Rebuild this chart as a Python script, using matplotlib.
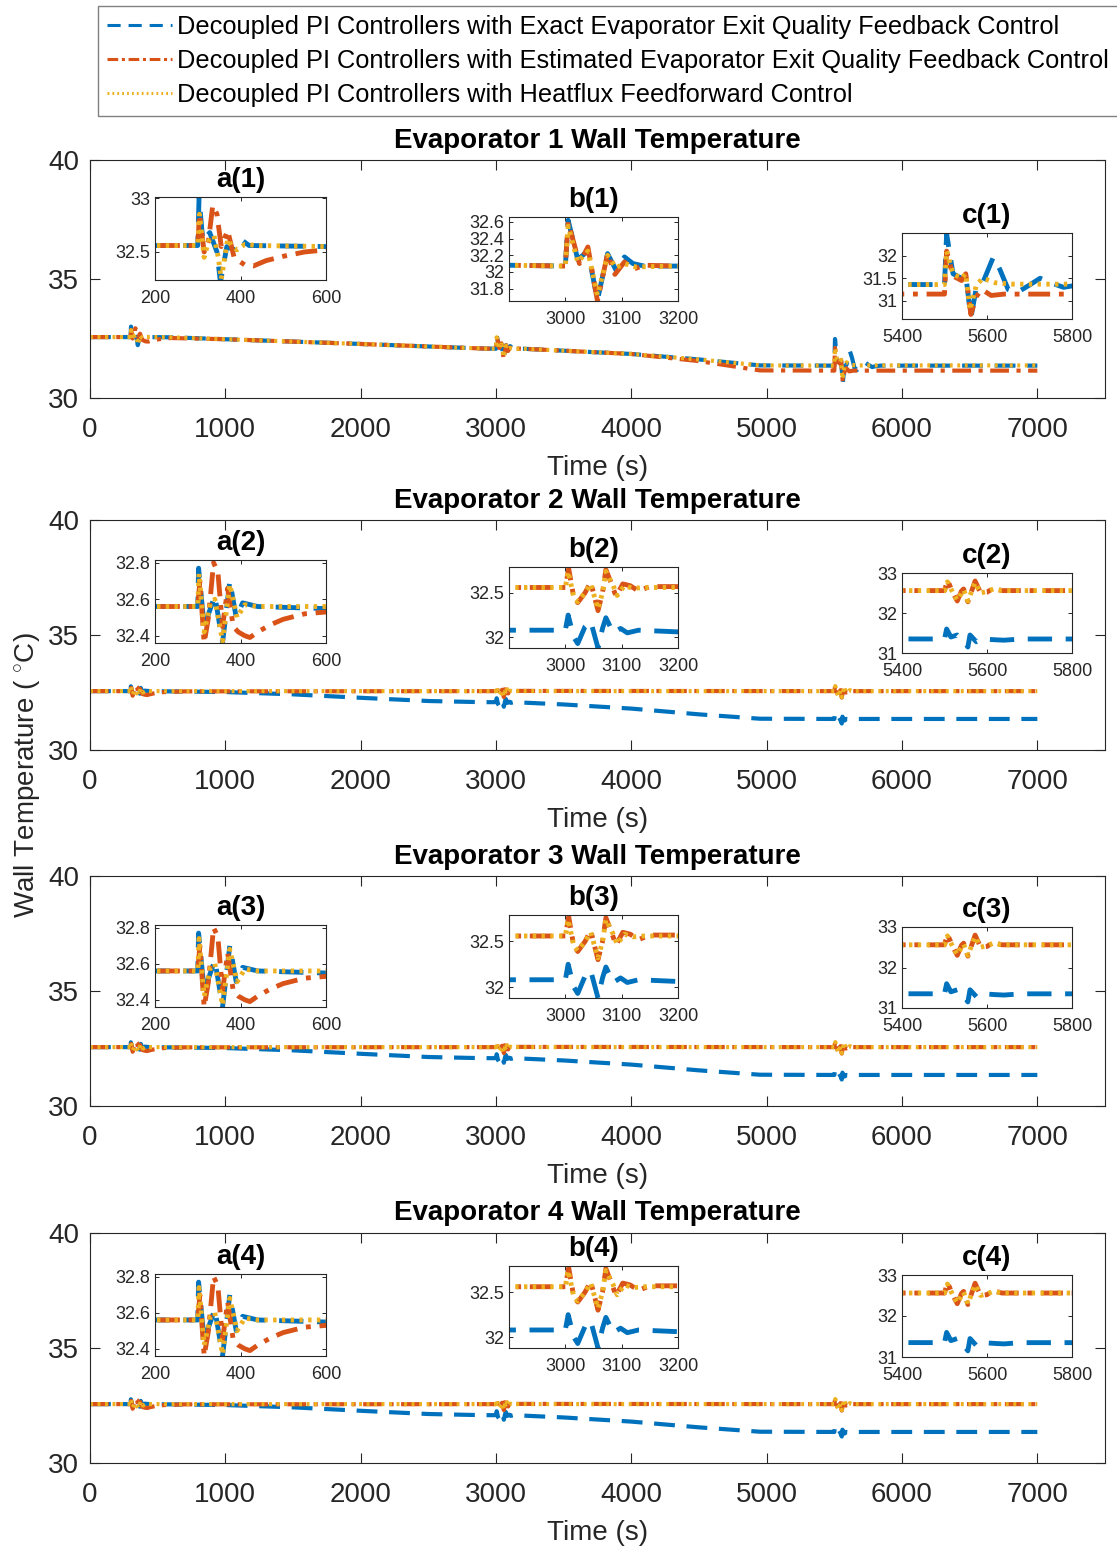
import matplotlib
matplotlib.use("Agg")
import matplotlib.pyplot as plt
from matplotlib.lines import Line2D

W, H = 1117, 1549
BLUE, RED, YEL = "#0072BD", "#D95319", "#EDB120"
INK = "#262626"

plt.rcParams.update({
    "font.family": ["Liberation Sans", "DejaVu Sans"],
    "mathtext.fontset": "custom", "mathtext.rm": "Liberation Sans",
    "axes.edgecolor": INK, "axes.linewidth": 0.8,
})

# ---------------- data (time in s, temperature in C) ----
# evaporator 1
E1_T_BLUE = [0, 300, 303, 312, 328, 345, 353, 368, 385, 400, 420, 600, 1000, 2000,
             2900, 3000, 3005, 3022, 3040, 3057, 3075, 3090, 3105, 3120, 3140, 3200,
             4000, 4500, 4950, 5500, 5505, 5520, 5540, 5550, 5562, 5575, 5590, 5615,
             5630, 5650, 5670, 5700, 5725, 5750, 5780, 5800, 5840, 7000]
E1_V_BLUE = [32.56, 32.56, 33.0, 32.6, 32.68, 32.5, 32.22, 32.55, 32.52, 32.62, 32.56,
             32.55, 32.47, 32.27, 32.08, 32.07, 32.62, 32.15, 32.25, 31.66, 32.22, 32.02,
             32.18, 32.1, 32.07, 32.07, 31.85, 31.62, 31.37, 31.36, 32.48, 31.6, 31.5,
             31.58, 30.62, 31.3, 31.4, 31.97, 31.7, 31.25, 31.18, 31.35, 31.5, 31.4,
             31.3, 31.33, 31.36, 31.36]
E1_T_RED = [0, 300, 304, 315, 325, 335, 345, 355, 370, 385, 395, 410, 430, 460, 500,
            550, 600, 1000, 2000, 2900, 3000, 3005, 3025, 3040, 3057, 3075, 3088, 3105,
            3120, 3140, 3200, 4000, 4500, 4950, 5500, 5505, 5520, 5540, 5550, 5562,
            5575, 5588, 5610, 5640, 7000]
E1_V_RED = [32.56, 32.56, 32.85, 32.5, 32.6, 32.93, 32.85, 32.55, 32.7, 32.45, 32.42,
            32.38, 32.37, 32.42, 32.46, 32.5, 32.52, 32.47, 32.27, 32.08, 32.07, 32.6,
            32.1, 32.3, 31.65, 32.22, 31.97, 32.12, 32.03, 32.08, 32.07, 31.85, 31.55,
            31.16, 31.15, 32.1, 31.55, 31.45, 31.6, 30.7, 31.1, 31.25, 31.12, 31.15, 31.15]
E1_T_YEL = [0, 300, 304, 315, 325, 338, 348, 355, 370, 380, 392, 410, 440, 600, 1000,
            2000, 2900, 3000, 3005, 3022, 3040, 3057, 3075, 3090, 3105, 3125, 3200,
            4000, 4500, 4950, 5500, 5505, 5520, 5540, 5550, 5560, 5575, 5590, 5620,
            5660, 7000]
E1_V_YEL = [32.56, 32.56, 32.85, 32.45, 32.6, 32.65, 32.45, 32.25, 32.62, 32.55, 32.52,
            32.57, 32.56, 32.55, 32.47, 32.27, 32.08, 32.07, 32.55, 32.12, 32.25, 31.72,
            32.2, 32.05, 32.1, 32.06, 32.07, 31.85, 31.62, 31.37, 31.36, 32.1, 31.6,
            31.5, 31.6, 30.8, 31.35, 31.5, 31.4, 31.37, 31.37]

# evaporators 2-4 (the three panels look alike)
E2_T_BLUE = [0, 300, 302, 315, 340, 358, 375, 390, 405, 440, 1000, 1500, 2000, 2500,
             2900, 3000, 3005, 3015, 3022, 3035, 3045, 3058, 3066, 3072, 3085, 3098,
             3110, 3130, 3500, 4000, 4500, 4950, 5500, 5505, 5515, 5530, 5545, 5555,
             5560, 5575, 5590, 5620, 5640, 5680, 7000]
E2_V_BLUE = [32.56, 32.56, 32.77, 32.45, 32.62, 32.36, 32.7, 32.5, 32.58, 32.56, 32.52,
             32.42, 32.27, 32.13, 32.08, 32.08, 32.25, 32.0, 31.93, 32.12, 32.18, 31.88,
             32.1, 32.22, 32.05, 32.1, 32.05, 32.08, 31.98, 31.8, 31.55, 31.36, 31.35,
             31.6, 31.4, 31.45, 31.3, 31.15, 31.45, 31.28, 31.35, 31.33, 31.32, 31.35, 31.35]
E2_T_RED = [0, 300, 305, 315, 325, 337, 347, 358, 370, 383, 395, 410, 422, 440, 470,
            500, 550, 600, 700, 3000, 3006, 3015, 3022, 3035, 3045, 3058, 3066, 3072,
            3082, 3090, 3102, 3115, 3130, 3150, 5500, 5507, 5520, 5530, 5540, 5545,
            5555, 5572, 5585, 5600, 5615, 5635, 7000]
E2_V_RED = [32.56, 32.56, 32.7, 32.36, 32.5, 32.8, 32.75, 32.45, 32.66, 32.45, 32.42,
            32.4, 32.39, 32.42, 32.46, 32.49, 32.52, 32.53, 32.55, 32.56, 32.77, 32.45,
            32.39, 32.5, 32.62, 32.3, 32.5, 32.76, 32.6, 32.46, 32.6, 32.58, 32.52,
            32.57, 32.56, 32.82, 32.5, 32.3, 32.55, 32.6, 32.28, 32.8, 32.5, 32.52,
            32.62, 32.56, 32.56]
E2_T_YEL = [0, 300, 303, 315, 330, 340, 358, 375, 392, 410, 440, 3000, 3005, 3015,
            3022, 3035, 3045, 3058, 3066, 3072, 3085, 3092, 3105, 3120, 3140, 5500,
            5507, 5520, 5530, 5545, 5555, 5572, 5585, 5600, 5615, 5635, 7000]
E2_V_YEL = [32.56, 32.56, 32.74, 32.42, 32.58, 32.6, 32.37, 32.68, 32.5, 32.57, 32.56,
            32.56, 32.74, 32.45, 32.4, 32.5, 32.6, 32.32, 32.5, 32.74, 32.58, 32.47,
            32.58, 32.55, 32.56, 32.56, 32.78, 32.5, 32.32, 32.58, 32.3, 32.76, 32.5,
            32.54, 32.6, 32.56, 32.56]

LABELS = ["Decoupled PI Controllers with Exact Evaporator Exit Quality Feedback Control",
          "Decoupled PI Controllers with Estimated Evaporator Exit Quality Feedback Control",
          "Decoupled PI Controllers with Heatflux Feedforward Control"]
TITLES = ["Evaporator %d Wall Temperature" % i for i in (1, 2, 3, 4)]
MAIN_XTICKS = [0, 1000, 2000, 3000, 4000, 5000, 6000, 7000]
MAIN_YTICKS = [30, 35, 40]

E1 = [(E1_T_BLUE, E1_V_BLUE), (E1_T_RED, E1_V_RED), (E1_T_YEL, E1_V_YEL)]
E2 = [(E2_T_BLUE, E2_V_BLUE), (E2_T_RED, E2_V_RED), (E2_T_YEL, E2_V_YEL)]

LINES = [(BLUE, (0, (5, 2.8))), (RED, (0, (4.5, 1.8, 1, 1.8))), (YEL, (0, (0.7, 1.1)))]

# panel boxes in pixels (left, top, right, bottom)
MAIN_BOX = [(90, 160, 1105, 398), (90, 520, 1105, 750),
            (90, 876, 1105, 1106), (90, 1233, 1105, 1463)]
INSET_Y = [[(197, 280), (217, 301), (233, 319)],
           [(560, 643), (567, 648), (573, 653)],
           [(925, 1007), (915, 998), (927, 1008)],
           [(1274, 1356), (1266, 1348), (1275, 1357)]]
INSET_X = [(155, 326), (509, 678), (902, 1072)]
INSET_XLIM = [(200, 600), (2900, 3200), (5400, 5800)]
INSET_XTICKS = [[200, 400, 600], [3000, 3100, 3200], [5400, 5600, 5800]]
E1_INSET_YLIM = [(32.24, 33.01), (31.65, 32.66), (30.6, 32.5)]
E1_INSET_YTICKS = [[32.5, 33], [31.8, 32, 32.2, 32.4, 32.6], [31, 31.5, 32]]
E2_INSET_YLIM = [(32.36, 32.815), (31.88, 32.79), (31.0, 33.0)]
E2_INSET_YTICKS = [[32.4, 32.6, 32.8], [32, 32.5], [31, 32, 33]]


def box_axes(fig, l, t, r, b):
    return fig.add_axes([l / W, 1 - b / H, (r - l) / W, (b - t) / H])


def draw(ax, series, lw):
    for (tt, vv), (col, ls) in zip(series, LINES):
        ax.plot(tt, vv, color=col, linestyle=ls, linewidth=lw)


fig = plt.figure(figsize=(W / 100, H / 100), dpi=100)

for k in range(4):
    data = E1 if k == 0 else E2
    ylims = E1_INSET_YLIM if k == 0 else E2_INSET_YLIM
    yticks = E1_INSET_YTICKS if k == 0 else E2_INSET_YTICKS

    ax = box_axes(fig, *MAIN_BOX[k])
    draw(ax, data, 3)
    ax.set_xlim(0, 7500)
    ax.set_ylim(30, 40)
    ax.set_xticks(MAIN_XTICKS)
    ax.set_yticks(MAIN_YTICKS)
    ax.tick_params(direction="in", top=True, right=True, length=7, width=0.8,
                   labelsize=20, colors=INK)
    ax.tick_params(axis="x", pad=13.5)
    ax.tick_params(axis="y", pad=8)
    ax.set_xlabel("Time (s)", fontsize=20, color=INK, labelpad=9)
    ax.set_title(TITLES[k], fontsize=20, fontweight="bold", pad=9)

    for j in range(3):
        t, b = INSET_Y[k][j]
        l, r = INSET_X[j]
        ins = box_axes(fig, l, t, r, b)
        draw(ins, data, 3.5)
        ins.set_xlim(*INSET_XLIM[j])
        ins.set_ylim(*ylims[j])
        ins.set_xticks(INSET_XTICKS[j])
        ins.set_yticks(yticks[j])
        ins.set_yticklabels(["%g" % v for v in yticks[j]])
        ins.tick_params(direction="in", top=True, right=True, length=3, width=0.7,
                        labelsize=13, colors=INK)
        ins.tick_params(axis="x", pad=7)
        ins.tick_params(axis="y", pad=3.5)
        ins.set_title("%s(%d)" % ("abc"[j], k + 1), fontsize=20,
                      fontweight="bold", pad=7)

fig.text(28 / W, 1 - 775 / H, "Wall Temperature ( $^{\\circ}$C)", rotation=90,
         ha="center", va="center", fontsize=20, color=INK)

handles = [Line2D([], [], color=c, linestyle=ls, linewidth=2.2) for c, ls in LINES]
handles[0].set_linestyle((0, (4.3, 2.6)))
handles[1].set_linestyle((0, (3.5, 1.2, 1, 1.2)))
handles[2].set_linestyle((0, (0.6, 1.0)))
fig.legend(handles, LABELS, loc="upper left", bbox_to_anchor=(98 / W, 1 - 6 / H),
           fontsize=18.3, frameon=True, fancybox=False, edgecolor="#808080",
           framealpha=1, borderpad=0.35, borderaxespad=0, handlelength=2.55,
           handletextpad=0.2, labelspacing=0.4)

fig.savefig("out.png", dpi=100)
